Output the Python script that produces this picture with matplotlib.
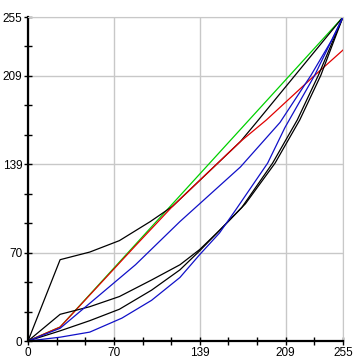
import numpy as np
import matplotlib.pyplot as plt

# curve data (input level -> output level)
green_x = [0, 26, 255]
green_y = [0, 11, 255]

red_x = [0, 26, 87, 117, 172, 193, 232, 255]
red_y = [0, 11, 75, 106, 157, 174, 209, 229]

black1_x = [0, 26, 50, 74, 99, 117, 172, 184, 255]
black1_y = [0, 64, 70, 79, 94, 106, 157, 171, 255]

blue1_x = [0, 26, 87, 123, 172, 204, 229, 246, 255]
blue1_y = [0, 10, 60, 94, 137, 172, 209, 237, 255]

black2_x = [0, 26, 50, 74, 100, 123, 139, 155, 173, 198, 218, 235, 255]
black2_y = [0, 21, 27, 35, 48, 60, 72, 87, 105, 140, 174, 209, 255]

black3_x = [0, 26, 50, 74, 100, 123, 139, 155, 176, 200, 220, 237, 255]
black3_y = [0, 8, 16, 25, 40, 56, 71, 87, 108, 140, 174, 209, 255]

blue2_x = [0, 26, 50, 76, 100, 123, 139, 155, 168, 194, 208, 232, 255]
blue2_y = [0, 3, 7, 18, 32, 50, 68, 85, 103, 140, 168, 209, 255]

# axis ticks: 11 steps over 0..255, labels on a few of them
tick_steps = 11
label_steps = [0, 3, 6, 9, 11]

plt.rcParams['font.family'] = ['Liberation Sans', 'DejaVu Sans']

fig = plt.figure(figsize=(3.62, 3.59), dpi=100)
ax = fig.add_axes([28 / 362, 18 / 359, 315 / 362, 324 / 359])

lw = 0.9
ax.plot(green_x, green_y, color='#00d000', lw=lw)
ax.plot(black1_x, black1_y, color='black', lw=lw)
ax.plot(red_x, red_y, color='#e00000', lw=lw)
ax.plot(black2_x, black2_y, color='black', lw=lw)
ax.plot(black3_x, black3_y, color='black', lw=lw)
ax.plot(blue1_x, blue1_y, color='#1010c8', lw=lw)
ax.plot(blue2_x, blue2_y, color='#1010c8', lw=lw)

ax.set_xlim(0, 255)
ax.set_ylim(0, 255)

all_ticks = [255 * i / tick_steps for i in range(tick_steps + 1)]
major = [all_ticks[i] for i in label_steps]
minor = [t for i, t in enumerate(all_ticks) if i not in label_steps]
labels = [f'{round(t)}' for t in major]

for axis in (ax.xaxis, ax.yaxis):
    axis.set_ticks(major)
    axis.set_ticklabels(labels)
    axis.set_ticks(minor, minor=True)

ax.tick_params(which='both', direction='inout', length=6, width=1,
               labelsize=8.5, pad=1)
ax.grid(True, which='major', color='#c8c8c8', lw=1)

ax.spines['left'].set_linewidth(1.6)
ax.spines['bottom'].set_linewidth(1.6)
ax.spines['top'].set_color('#c8c8c8')
ax.spines['right'].set_color('#c8c8c8')
ax.set_axisbelow(True)

plt.savefig('out.png', dpi=100)
plt.close()
